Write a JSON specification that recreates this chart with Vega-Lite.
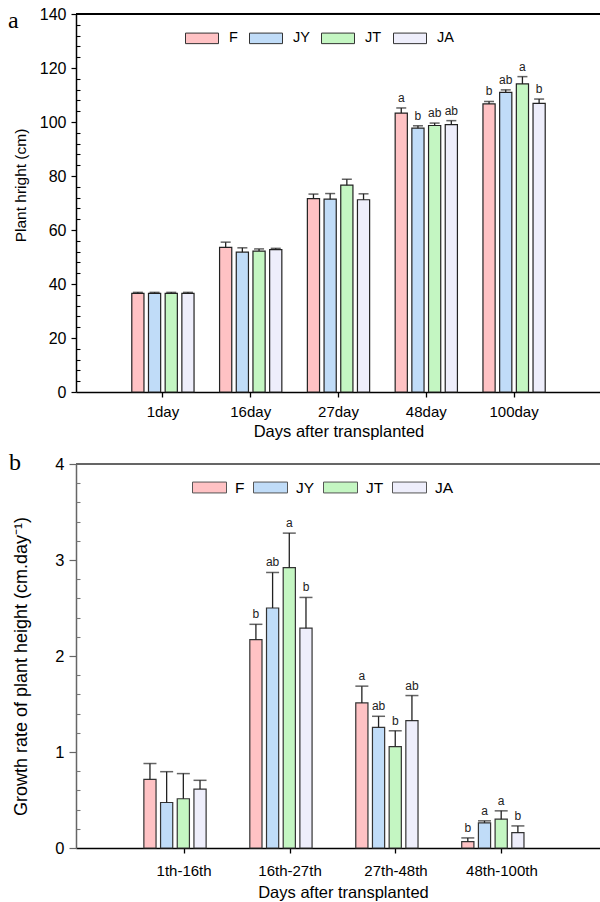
{
  "$schema": "https://vega.github.io/schema/vega-lite/v6.json",
  "autosize": {"type": "none"},
  "padding": {"left": 76, "top": 14, "right": 524, "bottom": 888},
  "background": "white",
  "config": {"font": "Liberation Sans", "view": {"stroke": null}},
  "bounds": "flush",
  "spacing": 72,
  "resolve": {"scale": {"fill": "independent"}},
  "datasets": {
    "height": [
      {"day": "1day", "trt": "F", "mean": 36.5, "upper": 36.9, "letter": ""},
      {"day": "1day", "trt": "JY", "mean": 36.5, "upper": 36.9, "letter": ""},
      {"day": "1day", "trt": "JT", "mean": 36.5, "upper": 36.9, "letter": ""},
      {"day": "1day", "trt": "JA", "mean": 36.5, "upper": 36.9, "letter": ""},
      {"day": "16day", "trt": "F", "mean": 53.6, "upper": 55.5, "letter": ""},
      {"day": "16day", "trt": "JY", "mean": 51.8, "upper": 53.4, "letter": ""},
      {"day": "16day", "trt": "JT", "mean": 52.2, "upper": 53.0, "letter": ""},
      {"day": "16day", "trt": "JA", "mean": 52.7, "upper": 53.2, "letter": ""},
      {"day": "27day", "trt": "F", "mean": 71.6, "upper": 73.3, "letter": ""},
      {"day": "27day", "trt": "JY", "mean": 71.4, "upper": 73.5, "letter": ""},
      {"day": "27day", "trt": "JT", "mean": 76.6, "upper": 78.8, "letter": ""},
      {"day": "27day", "trt": "JA", "mean": 71.2, "upper": 73.4, "letter": ""},
      {"day": "48day", "trt": "F", "mean": 103.3, "upper": 105.2, "letter": "a"},
      {"day": "48day", "trt": "JY", "mean": 97.7, "upper": 98.6, "letter": "b"},
      {"day": "48day", "trt": "JT", "mean": 98.7, "upper": 99.6, "letter": "ab"},
      {"day": "48day", "trt": "JA", "mean": 99.0, "upper": 100.5, "letter": "ab"},
      {"day": "100day", "trt": "F", "mean": 106.7, "upper": 107.6, "letter": "b"},
      {"day": "100day", "trt": "JY", "mean": 111.0, "upper": 111.9, "letter": "ab"},
      {"day": "100day", "trt": "JT", "mean": 114.1, "upper": 116.8, "letter": "a"},
      {"day": "100day", "trt": "JA", "mean": 106.9, "upper": 108.5, "letter": "b"}
    ],
    "rate": [
      {"period": "1th-16th", "trt": "F", "mean": 0.715, "upper": 0.88, "letter": ""},
      {"period": "1th-16th", "trt": "JY", "mean": 0.474, "upper": 0.795, "letter": ""},
      {"period": "1th-16th", "trt": "JT", "mean": 0.513, "upper": 0.775, "letter": ""},
      {"period": "1th-16th", "trt": "JA", "mean": 0.614, "upper": 0.705, "letter": ""},
      {"period": "16th-27th", "trt": "F", "mean": 2.17, "upper": 2.33, "letter": "b"},
      {"period": "16th-27th", "trt": "JY", "mean": 2.5, "upper": 2.87, "letter": "ab"},
      {"period": "16th-27th", "trt": "JT", "mean": 2.92, "upper": 3.28, "letter": "a"},
      {"period": "16th-27th", "trt": "JA", "mean": 2.29, "upper": 2.61, "letter": "b"},
      {"period": "27th-48th", "trt": "F", "mean": 1.511, "upper": 1.686, "letter": "a"},
      {"period": "27th-48th", "trt": "JY", "mean": 1.256, "upper": 1.372, "letter": "ab"},
      {"period": "27th-48th", "trt": "JT", "mean": 1.057, "upper": 1.221, "letter": "b"},
      {"period": "27th-48th", "trt": "JA", "mean": 1.326, "upper": 1.588, "letter": "ab"},
      {"period": "48th-100th", "trt": "F", "mean": 0.066, "upper": 0.105, "letter": "b"},
      {"period": "48th-100th", "trt": "JY", "mean": 0.262, "upper": 0.283, "letter": "a"},
      {"period": "48th-100th", "trt": "JT", "mean": 0.3, "upper": 0.387, "letter": "a"},
      {"period": "48th-100th", "trt": "JA", "mean": 0.16, "upper": 0.23, "letter": "b"}
    ]
  },
  "vconcat": [
    {
      "width": 525,
      "height": 378,
      "title": {"text": "a", "orient": "top", "anchor": "start", "frame": "group", "font": "Liberation Serif", "fontSize": 24, "fontWeight": "normal", "baseline": "alphabetic", "offset": -46, "dx": -68, "color": "#000"},
      "data": {"name": "height"},
      "resolve": {"axis": {"y": "independent"}},
      "layer": [
        {
          "mark": {"type": "bar", "stroke": "#222", "strokeWidth": 1.2},
          "encoding": {
            "x": {"field": "day", "type": "nominal", "sort": ["1day", "16day", "27day", "48day", "100day"], "scale": {"paddingInner": 0, "paddingOuter": 0.49},
              "axis": {"title": "Days after transplanted", "titleFontSize": 16.5, "titleFontWeight": "normal", "labelFontSize": 15, "labelAngle": 0, "tickSize": 5, "labelPadding": 7, "titlePadding": 4, "domainColor": "#000", "tickColor": "#000", "labelColor": "#000", "titleColor": "#000", "domainWidth": 1.5, "tickWidth": 1.3}},
            "xOffset": {"field": "trt", "type": "nominal", "sort": ["F", "JY", "JT", "JA"], "scale": {"paddingInner": 0.27, "paddingOuter": 0.765}},
            "y": {"field": "mean", "type": "quantitative", "scale": {"domain": [0, 140], "nice": false},
              "axis": {"orient": "left", "title": "Plant hright (cm)", "values": [0, 20, 40, 60, 80, 100, 120, 140], "format": "d", "labelOverlap": false, "tickSize": 5, "labelPadding": 5, "labelFontSize": 16, "labelColor": "#000", "titleFontSize": 15.5, "titleFontWeight": "normal", "titleColor": "#000", "titleX": -48, "titleY": 171, "grid": false, "domainColor": "#000", "domainWidth": 1.5, "tickColor": "#000", "tickWidth": 1.2}},
            "fill": {"field": "trt", "type": "nominal", "scale": {"domain": ["F", "JY", "JT", "JA"], "range": ["#FFC2C4", "#C0DCF8", "#C4F6C2", "#EEEEFB"]},
              "legend": {"orient": "none", "legendX": 109, "legendY": 7, "direction": "horizontal", "title": null, "symbolType": "M-1,-0.32L1,-0.32L1,0.32L-1,0.32Z", "symbolSize": 1089, "symbolStrokeColor": "#333", "symbolStrokeWidth": 1, "labelFontSize": 14.5, "labelColor": "#000", "labelOffset": 10, "columnPadding": 9, "padding": 0}}
          }
        },
        {
          "mark": {"type": "rule", "color": "#222", "strokeWidth": 1.3},
          "encoding": {
            "x": {"field": "day", "type": "nominal", "sort": ["1day", "16day", "27day", "48day", "100day"]},
            "xOffset": {"field": "trt", "type": "nominal", "sort": ["F", "JY", "JT", "JA"]},
            "y": {"field": "mean", "type": "quantitative", "axis": null},
            "y2": {"field": "upper"}
          }
        },
        {
          "mark": {"type": "tick", "color": "#222", "thickness": 1.5, "size": 10},
          "encoding": {
            "x": {"field": "day", "type": "nominal", "sort": ["1day", "16day", "27day", "48day", "100day"]},
            "xOffset": {"field": "trt", "type": "nominal", "sort": ["F", "JY", "JT", "JA"]},
            "y": {"field": "upper", "type": "quantitative",
              "axis": {"orient": "left", "title": null, "values": [4,8,12,16,24,28,32,36,44,48,52,56,64,68,72,76,84,88,92,96,104,108,112,116,124,128,132,136], "labels": false, "domain": false, "grid": false, "tickSize": -4, "tickColor": "#000", "tickWidth": 1.1}}
          }
        },
        {
          "mark": {"type": "text", "fontSize": 12, "dy": -3, "baseline": "bottom", "color": "#222"},
          "encoding": {
            "x": {"field": "day", "type": "nominal", "sort": ["1day", "16day", "27day", "48day", "100day"]},
            "xOffset": {"field": "trt", "type": "nominal", "sort": ["F", "JY", "JT", "JA"]},
            "y": {"field": "upper", "type": "quantitative", "axis": null},
            "text": {"field": "letter"}
          }
        },
        {
          "mark": {"type": "rule", "color": "#000", "strokeWidth": 1.5},
          "encoding": {"y": {"datum": 140, "type": "quantitative", "axis": null}}
        }
      ]
    },
    {
      "width": 534,
      "height": 384,
      "title": {"text": "b", "orient": "top", "anchor": "start", "frame": "group", "font": "Liberation Serif", "fontSize": 24, "fontWeight": "normal", "baseline": "alphabetic", "offset": -38, "dx": -67, "color": "#000"},
      "data": {"name": "rate"},
      "resolve": {"axis": {"y": "independent"}},
      "layer": [
        {
          "mark": {"type": "bar", "stroke": "#333", "strokeWidth": 1.2},
          "encoding": {
            "x": {"field": "period", "type": "nominal", "sort": ["1th-16th", "16th-27th", "27th-48th", "48th-100th"], "scale": {"paddingInner": 0, "paddingOuter": 0.52},
              "axis": {"title": "Days after transplanted", "titleFontSize": 16.5, "titleFontWeight": "normal", "labelFontSize": 15, "labelAngle": 0, "tickSize": 5, "labelPadding": 10, "titlePadding": 6, "domainColor": "#000", "tickColor": "#000", "labelColor": "#000", "titleColor": "#000", "domainWidth": 1.5, "tickWidth": 1.3}},
            "xOffset": {"field": "trt", "type": "nominal", "sort": ["F", "JY", "JT", "JA"], "scale": {"paddingInner": 0.2, "paddingOuter": 0.75}},
            "y": {"field": "mean", "type": "quantitative", "scale": {"domain": [0, 4], "nice": false},
              "axis": {"orient": "left", "title": "Growth rate of plant height (cm.day⁻¹)", "values": [0, 1, 2, 3, 4], "format": "d", "labelOverlap": false, "tickSize": 7, "labelPadding": 5, "labelFontSize": 16.5, "labelColor": "#000", "titleFontSize": 18, "titleFontWeight": "normal", "titleColor": "#000", "titleX": -46, "titleY": 202, "grid": false, "domainColor": "#666", "domainWidth": 1.5, "tickColor": "#666", "tickWidth": 1.2}},
            "fill": {"field": "trt", "type": "nominal", "scale": {"domain": ["F", "JY", "JT", "JA"], "range": ["#FFC2C4", "#C0DCF8", "#C4F6C2", "#EEEEFB"]},
              "legend": {"orient": "none", "legendX": 116, "legendY": 6, "direction": "horizontal", "title": null, "symbolType": "M-1,-0.32L1,-0.32L1,0.32L-1,0.32Z", "symbolSize": 1156, "symbolStrokeColor": "#555", "symbolStrokeWidth": 1, "labelFontSize": 15.5, "labelColor": "#000", "labelOffset": 8, "columnPadding": 6, "padding": 0}}
          }
        },
        {
          "mark": {"type": "rule", "color": "#222", "strokeWidth": 1.3},
          "encoding": {
            "x": {"field": "period", "type": "nominal", "sort": ["1th-16th", "16th-27th", "27th-48th", "48th-100th"]},
            "xOffset": {"field": "trt", "type": "nominal", "sort": ["F", "JY", "JT", "JA"]},
            "y": {"field": "mean", "type": "quantitative", "axis": null},
            "y2": {"field": "upper"}
          }
        },
        {
          "mark": {"type": "tick", "color": "#222", "thickness": 1.5, "size": 13},
          "encoding": {
            "x": {"field": "period", "type": "nominal", "sort": ["1th-16th", "16th-27th", "27th-48th", "48th-100th"]},
            "xOffset": {"field": "trt", "type": "nominal", "sort": ["F", "JY", "JT", "JA"]},
            "y": {"field": "upper", "type": "quantitative",
              "axis": {"orient": "left", "title": null, "values": [0.2,0.4,0.6,0.8,1.2,1.4,1.6,1.8,2.2,2.4,2.6,2.8,3.2,3.4,3.6,3.8], "labels": false, "domain": false, "grid": false, "tickSize": -4, "tickColor": "#777", "tickWidth": 1.1}}
          }
        },
        {
          "mark": {"type": "text", "fontSize": 12, "dy": -3, "baseline": "bottom", "color": "#222"},
          "encoding": {
            "x": {"field": "period", "type": "nominal", "sort": ["1th-16th", "16th-27th", "27th-48th", "48th-100th"]},
            "xOffset": {"field": "trt", "type": "nominal", "sort": ["F", "JY", "JT", "JA"]},
            "y": {"field": "upper", "type": "quantitative", "axis": null},
            "text": {"field": "letter"}
          }
        },
        {
          "mark": {"type": "rule", "color": "#666", "strokeWidth": 1.5},
          "encoding": {"y": {"datum": 4, "type": "quantitative", "axis": null}}
        }
      ]
    }
  ]
}
